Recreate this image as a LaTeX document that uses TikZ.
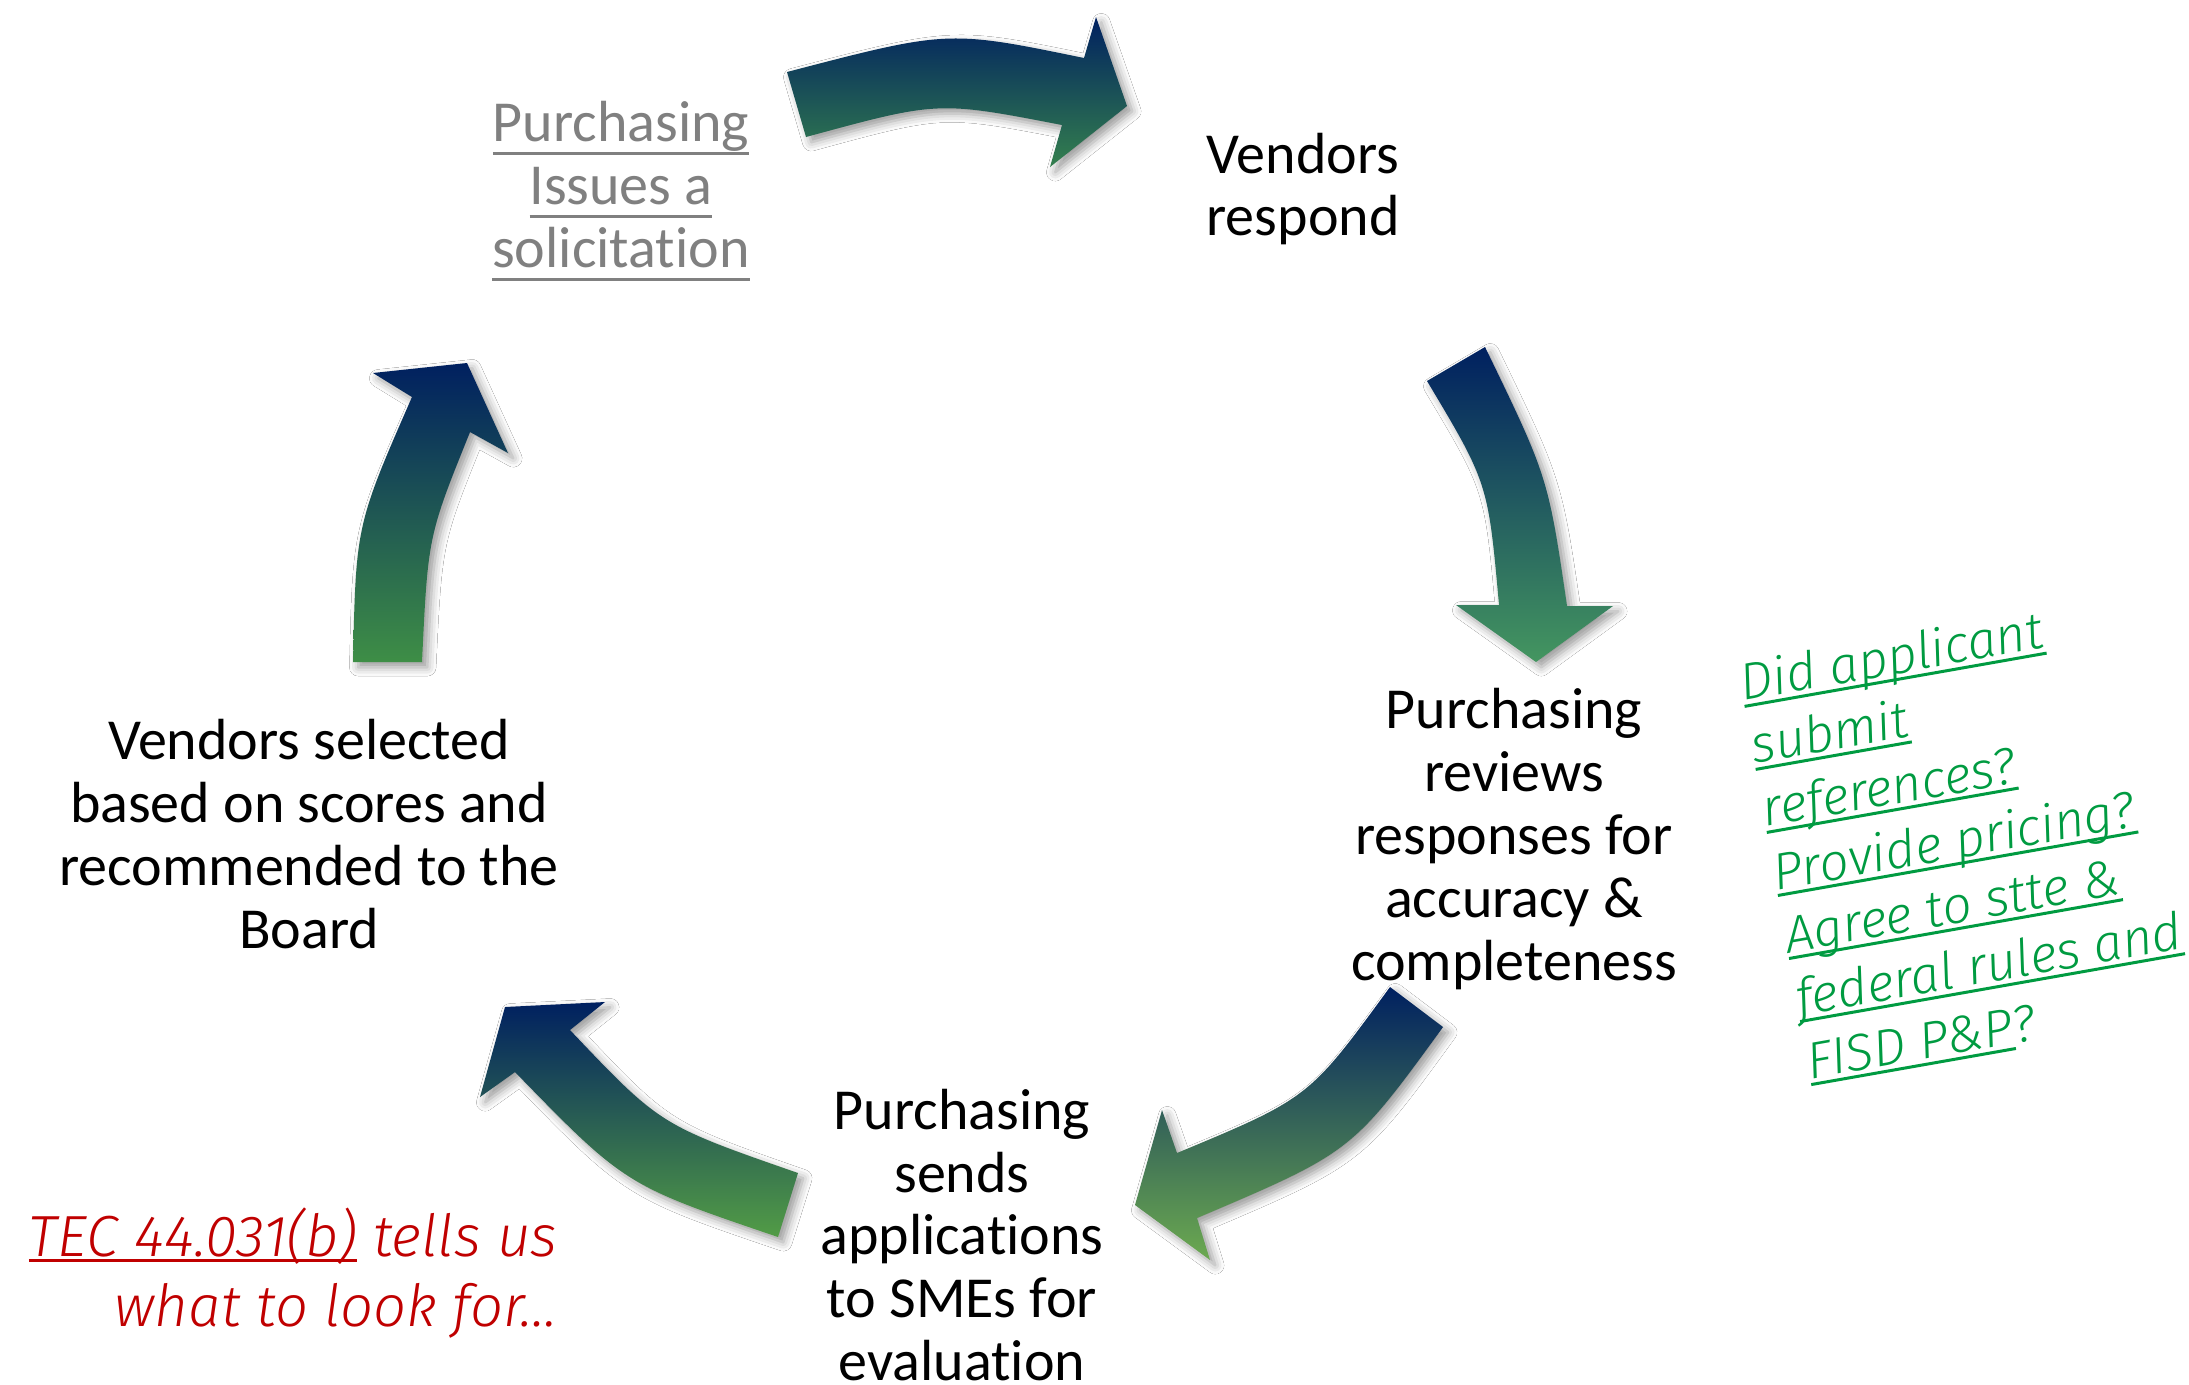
\documentclass[tikz,border=0pt]{standalone}
\usepackage{fontspec}
\setmainfont{Carlito}[Ligatures=NoCommon]
\newfontfamily\notefont{Fira Sans Light Italic}
\usetikzlibrary{shadows.blur}

\newsavebox\ulbox
\newlength\uldepth
\setlength\uldepth{3.8pt}
\newcommand\ulined[1]{\sbox\ulbox{#1}\rlap{\rule[-\uldepth]{\wd\ulbox}{0.85pt}}\usebox\ulbox}

\definecolor{navyblue}{RGB}{0,32,96}
\definecolor{grnA}{RGB}{52,128,78}
\definecolor{grnB}{RGB}{68,150,96}
\definecolor{grnC}{RGB}{108,170,80}
\definecolor{grnD}{RGB}{82,156,70}
\definecolor{grnE}{RGB}{62,142,70}
\definecolor{notegreen}{RGB}{0,155,65}
\definecolor{notered}{RGB}{192,0,0}
\definecolor{linkgray}{RGB}{128,128,128}

\tikzset{
  steptext/.style={font=\fontsize{16.5}{17.9}\selectfont, align=center, inner sep=0pt},
  notetext/.style={inner sep=0pt},
  cyclearrow/.style={top color=navyblue,
    blur shadow={shadow xshift=1.5pt, shadow yshift=-1.5pt, shadow blur radius=2.5pt, shadow opacity=40}}
}

\begin{document}
\begin{tikzpicture}[x=0.01cm, y=-0.01cm]
\fill[white] (0,0) rectangle (2189,1384);
\useasboundingbox (0,0) rectangle (2189,1384);

% curved arrows of the cycle
\path[cyclearrow, bottom color=grnA]
  (787,72) .. controls (948,30) .. (1084,58) -- (1096,17) -- (1127,106)
  -- (1050,167) -- (1062,125) .. controls (938,101) .. (806,137) -- cycle;
\path[cyclearrow, bottom color=grnB]
  (1485,347) .. controls (1548,477) .. (1567,606) -- (1613,606) -- (1536,662)
  -- (1456,605) -- (1499,605) .. controls (1488,483) .. (1427,381) -- cycle;
\path[cyclearrow, bottom color=grnC]
  (1443,1027) .. controls (1352,1152) .. (1197,1218) -- (1210,1260) -- (1135,1205)
  -- (1162,1110) -- (1177,1153) .. controls (1309,1098) .. (1390,987) -- cycle;
\path[cyclearrow, bottom color=grnD]
  (798,1173) .. controls (660,1125) .. (570,1030) -- (605,1002) -- (505,1007)
  -- (480,1097) -- (515,1072) .. controls (625,1185) .. (778,1237) -- cycle;
\path[cyclearrow, bottom color=grnE]
  (422,662) .. controls (428,536) .. (470,432) -- (508,453) -- (467,363)
  -- (373,373) -- (412,397) .. controls (356,525) .. (353,662) -- cycle;

% steps
\node[steptext, text=linkgray] (solicit) at (621,191)
  {\ulined{Purchasing}\\\ulined{Issues a}\\\ulined{solicitation}};
\node[steptext] (respond) at (1303,189) {Vendors\\respond};
\node[steptext] (review) at (1514,839)
  {Purchasing\\reviews\\responses for\\accuracy \&\\completeness};
\node[steptext] (sends) at (962,1235)
  {Purchasing\\sends\\applications\\to SMEs for\\evaluation};
\node[steptext] (select) at (309,834)
  {Vendors selected\\based on scores and\\recommended to the\\Board};

% notes
\node[notetext, text=notered, align=right, anchor=east,
  font=\notefont\fontsize{16.5}{19.9}\selectfont\setlength{\uldepth}{1.6pt}] (tecnote) at (558,1273)
  {\ulined{TEC 44.031(b)} tells us\\what to look for…};
\node[notetext, text=notegreen, align=left, anchor=north west, rotate=10,
  font=\notefont\fontsize{14.7}{18.2}\selectfont\setlength{\uldepth}{2pt}] (checklist) at (1736,662)
  {\ulined{Did applicant}\\\ulined{submit}\\\ulined{references?}\\\ulined{Provide pricing?}\\
   \ulined{Agree to stte \&}\\\ulined{federal rules and}\\\ulined{FISD P\&P}?};
\end{tikzpicture}
\end{document}
